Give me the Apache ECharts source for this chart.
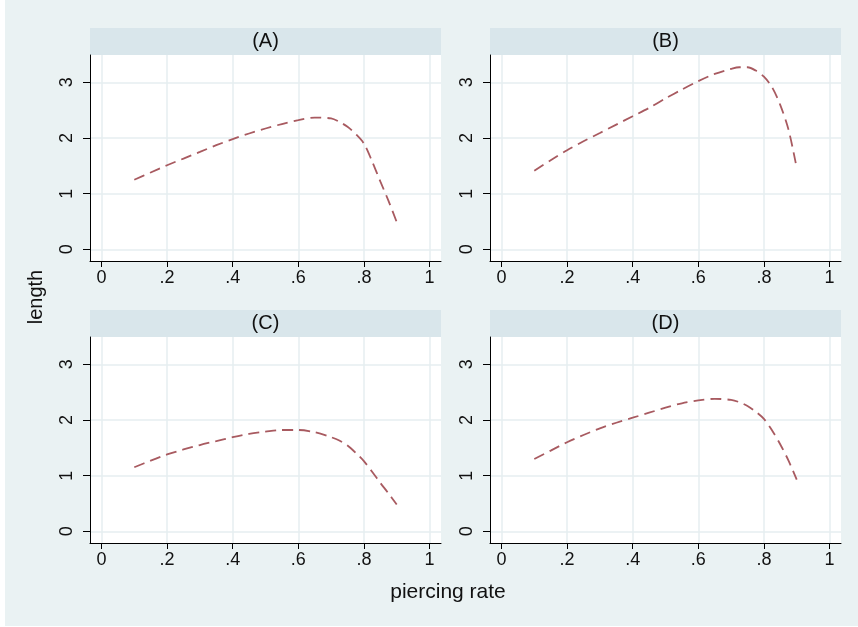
<!DOCTYPE html>
<html lang="en">
<head>
    <meta charset="UTF-8">
    <title>length vs piercing rate</title>
    <script src="https://cdn.jsdelivr.net/npm/echarts@6/dist/echarts.min.js"></script>
    <style>
        html, body { margin: 0; padding: 0; background: #fff; }
        #chart { width: 858px; height: 627px; }
    </style>
</head>
<body>
<div id="chart"></div>
<script>
    // piercing rate (x) sampled along each curve
    const xs = [0.1, 0.15, 0.2, 0.25, 0.3, 0.35, 0.4, 0.45, 0.5, 0.55, 0.6, 0.65, 0.7, 0.725, 0.75, 0.775, 0.8, 0.825, 0.85, 0.875, 0.9];

    // length
    const lengthA = [1.25, 1.38, 1.51, 1.63, 1.75, 1.87, 1.98, 2.08, 2.17, 2.25, 2.32, 2.365, 2.35, 2.29, 2.20, 2.07, 1.90, 1.58, 1.22, 0.87, 0.49];
    const lengthB = [1.41, 1.60, 1.78, 1.94, 2.09, 2.24, 2.39, 2.54, 2.71, 2.87, 3.02, 3.15, 3.24, 3.27, 3.27, 3.21, 3.10, 2.91, 2.59, 2.15, 1.46];
    const lengthC = [1.15, 1.27, 1.38, 1.47, 1.55, 1.62, 1.69, 1.75, 1.79, 1.82, 1.82, 1.78, 1.69, 1.63, 1.54, 1.41, 1.26, 1.07, 0.87, 0.68, 0.48];
    const lengthD = [1.30, 1.45, 1.60, 1.73, 1.85, 1.95, 2.04, 2.13, 2.22, 2.30, 2.35, 2.38, 2.36, 2.32, 2.25, 2.15, 2.02, 1.81, 1.56, 1.27, 0.93];

    const panelNames = ['(A)', '(B)', '(C)', '(D)'];
    const xTicks = [0, 0.2, 0.4, 0.6, 0.8, 1];
    const yTicks = [0, 1, 2, 3];

    const panels = [lengthA, lengthB, lengthC, lengthD];
    const lefts = [90, 490];
    const tops = [55, 337];
    const plotW = 351, plotH = 206, stripH = 27;

    const font = 'Liberation Sans, Arial, sans-serif';
    const bg = '#eaf2f3';
    const stripColor = '#d9e6eb';
    const gridColor = '#e6eef0';
    const lineColor = '#a85a60';

    const fmtX = v => {
        const s = Number(v.toFixed(1)).toString();
        return s.replace(/^0\./, '.');
    };

    const grids = [], xAxes = [], yAxes = [], series = [];
    const graphics = [
        { type: 'rect', shape: { x: 5, y: 0, width: 853, height: 626 }, style: { fill: bg }, z: -10 }
    ];

    panels.forEach((vals, i) => {
        const left = lefts[i % 2];
        const top = tops[Math.floor(i / 2)];
        grids.push({ left: left, top: top, width: plotW, height: plotH, backgroundColor: '#fff', show: true, borderWidth: 0 });

        xAxes.push({
            type: 'value', gridIndex: i, min: -0.035, max: 1.035,
            axisLine: { show: true, onZero: false, lineStyle: { color: '#000', width: 1 } },
            axisTick: { show: true, length: 6, customValues: xTicks, lineStyle: { color: '#000' } },
            axisLabel: { customValues: xTicks, formatter: fmtX, color: '#111', fontSize: 18, fontFamily: font, margin: 8 },
            splitLine: { show: true, lineStyle: { color: gridColor, width: 1.5 } }
        });
        yAxes.push({
            type: 'value', gridIndex: i, min: -0.21, max: 3.49,
            axisLine: { show: true, onZero: false, lineStyle: { color: '#000', width: 1 } },
            axisTick: { show: true, length: 7, customValues: yTicks, lineStyle: { color: '#000' } },
            axisLabel: { customValues: yTicks, rotate: 90, color: '#111', fontSize: 18, fontFamily: font, margin: 14 },
            splitLine: { show: true, lineStyle: { color: gridColor, width: 1.5 } }
        });
        series.push({
            type: 'line', xAxisIndex: i, yAxisIndex: i,
            data: xs.map((x, k) => [x, vals[k]]),
            smooth: 0.3, showSymbol: false, silent: true,
            lineStyle: { color: lineColor, width: 1.8, type: [11, 6] }
        });

        graphics.push({
            type: 'rect', shape: { x: left, y: top - stripH, width: plotW, height: stripH },
            style: { fill: stripColor }
        });
        graphics.push({
            type: 'text', x: left + plotW / 2, y: top - stripH / 2,
            style: { text: panelNames[i], fill: '#111', font: '20px ' + font, textAlign: 'center', textVerticalAlign: 'middle' }
        });
    });

    graphics.push({
        type: 'text', x: 36, y: 297, rotation: Math.PI / 2,
        style: { text: 'length', fill: '#111', font: '20px ' + font, textAlign: 'center', textVerticalAlign: 'middle' }
    });
    graphics.push({
        type: 'text', x: 448, y: 592,
        style: { text: 'piercing rate', fill: '#111', font: '21px ' + font, textAlign: 'center', textVerticalAlign: 'middle' }
    });

    const chart = echarts.init(document.getElementById('chart'));
    chart.setOption({
        backgroundColor: '#fff',
        animation: false,
        grid: grids,
        xAxis: xAxes,
        yAxis: yAxes,
        series: series,
        graphic: graphics
    });
</script>
</body>
</html>
